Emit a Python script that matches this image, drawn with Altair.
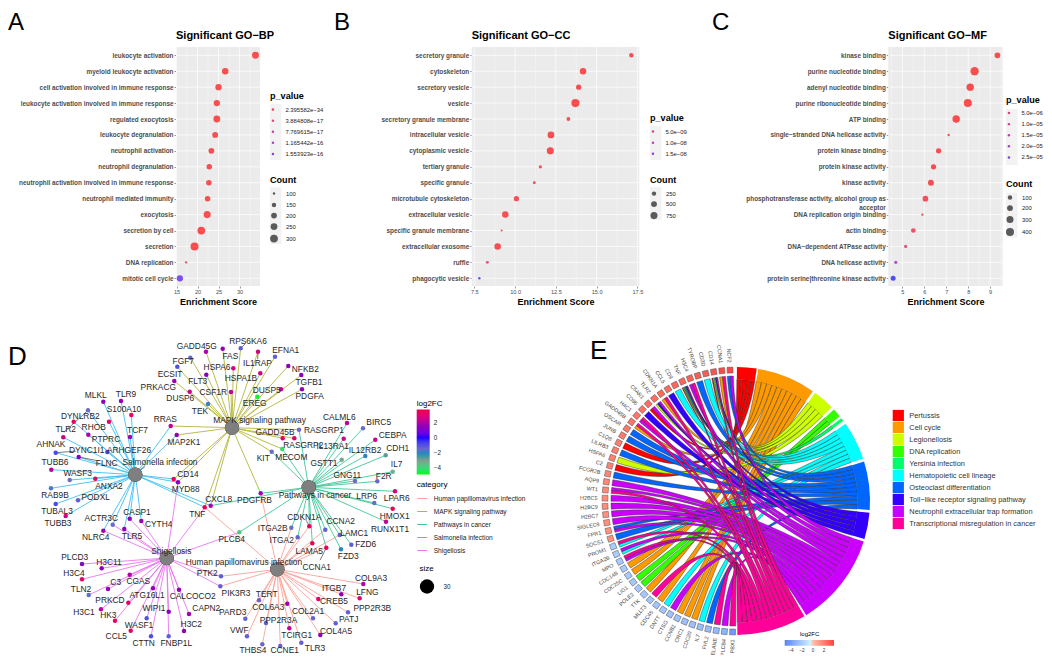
import math
import altair as alt
import pandas as pd

W, H = 1036, 647
FONT = "Liberation Sans"

# ---------- panels A-C ----------
terms_a = ["leukocyte activation", "myeloid leukocyte activation", "cell activation involved in immune response",
           "leukocyte activation involved in immune response", "regulated exocytosis", "leukocyte degranulation",
           "neutrophil activation", "neutrophil degranulation", "neutrophil activation involved in immune response",
           "neutrophil mediated immunity", "exocytosis", "secretion by cell", "secretion", "DNA replication",
           "mitotic cell cycle"]
score_a = [33.8, 26.6, 25.0, 24.6, 24.6, 24.2, 23.3, 22.8, 22.7, 22.4, 22.3, 20.9, 19.3, 17.3, 15.8]
count_a = [255, 235, 225, 225, 250, 200, 200, 190, 190, 190, 265, 300, 315, 100, 225]
pval_a = [2.4e-34, 1e-24, 1e-22, 1e-22, 1e-22, 1e-21, 1e-20, 1e-20, 1e-20, 1e-20, 1e-20, 1e-19, 1e-18, 1.5e-17, 1.6e-16]

terms_b = ["secretory granule", "cytoskeleton", "secretory vesicle", "vesicle", "secretory granule membrane",
           "intracellular vesicle", "cytoplasmic vesicle", "tertiary granule", "specific granule",
           "microtubule cytoskeleton", "extracellular vesicle", "specific granule membrane",
           "extracellular exosome", "ruffle", "phagocytic vesicle"]
score_b = [17.13, 14.17, 13.9, 13.7, 13.27, 12.2, 12.16, 11.55, 11.18, 10.08, 9.4, 9.18, 8.93, 8.3, 7.81]
count_b = [260, 620, 380, 990, 180, 680, 750, 120, 90, 380, 620, 25, 620, 90, 40]
pval_b = [1e-14, 1e-13, 1e-13, 1e-13, 1e-12, 1e-12, 1e-12, 1e-11, 1e-11, 1e-10, 1e-10, 1e-10, 1e-10, 4.0e-9, 1.7e-8]

terms_c = ["kinase binding", "purine nucleotide binding", "adenyl nucleotide binding", "purine ribonucleotide binding",
           "ATP binding", "single\u2212stranded DNA helicase activity", "protein kinase binding",
           "protein kinase activity", "kinase activity", "phosphotransferase activity, alcohol group as\nacceptor",
           "DNA replication origin binding", "actin binding", "DNA\u2212dependent ATPase activity",
           "DNA helicase activity", "protein serine|threonine kinase activity"]
score_c = [9.33, 8.29, 8.09, 7.98, 7.45, 7.11, 6.65, 6.42, 6.3, 6.05, 5.91, 5.5, 5.15, 4.7, 4.58]
count_c = [185, 430, 340, 400, 340, 5, 156, 156, 204, 185, 5, 116, 38, 38, 136]
pval_c = [1e-8, 1e-8, 1e-8, 1e-8, 1e-8, 1e-7, 1e-7, 1e-7, 1e-7, 1e-6, 1e-6, 2e-6, 7e-6, 2.0e-5, 2.7e-5]

legend_p_a = [2.395582e-34, 3.884808e-17, 7.769615e-17, 1.165442e-16, 1.553923e-16]
legend_p_b = [5.0e-9, 1.0e-8, 1.5e-8]
legend_p_c = [5.0e-6, 1.0e-5, 1.5e-5, 2.0e-5, 2.5e-5]

one = pd.DataFrame({"a": [1]})
PX = alt.Scale(domain=[8, 8 + W], range=[0, W], nice=False, zero=False)
PY = alt.Scale(domain=[8, 8 + H], range=[0, H], nice=False, zero=False)
layers = []
EXPR_FULL = "replace(format(datum.value,'.6e'),'e-','e\u2212')"
EXPR_SHORT = "replace(format(datum.value,'.1e'),'e-','e\u22120')"


def panel(terms, score, count, pval, title, left, right, xdom, major, minor, xfmt,
          pvals, pexpr, pdom, cvals, cdom, crange, lx, ly_p, key_p, ly_c, key_c):
    top, bot = 47, 286
    l, r, t, b = left - 8, right - 8, top - 8, bot - 8
    sx = alt.Scale(domain=xdom, range=[l, r], nice=False, zero=False)
    sy = alt.Scale(type="point", domain=terms, range=[55.3 - 8, 278.3 - 8], padding=0)
    df = pd.DataFrame({"term": terms, "score": score, "Count": count, "p": pval})
    layers.append(alt.Chart(one).mark_rect(color="#ebebeb").encode(
        x=alt.value(l), x2=alt.value(r), y=alt.value(t), y2=alt.value(b)))
    layers.append(alt.Chart(pd.DataFrame({"v": minor})).mark_rule(color="white", strokeWidth=0.35).encode(
        x=alt.X("v:Q", scale=sx, axis=None), y=alt.value(t), y2=alt.value(b)))
    layers.append(alt.Chart(pd.DataFrame({"v": major})).mark_rule(color="white", strokeWidth=0.7).encode(
        x=alt.X("v:Q", scale=sx, axis=None), y=alt.value(t), y2=alt.value(b)))
    layers.append(alt.Chart(df).mark_rule(color="white", strokeWidth=0.7).encode(
        y=alt.Y("term:N", scale=sy, axis=None), x=alt.value(l), x2=alt.value(r)))
    # legend key backgrounds
    for (k0, k1) in (key_p, key_c):
        layers.append(alt.Chart(one).mark_rect(color="#f2f2f2").encode(
            x=alt.value(lx - 8), x2=alt.value(lx - 8 + 11.5), y=alt.value(k0 - 8), y2=alt.value(k1 - 8)))
    layers.append(alt.Chart(df).mark_circle(opacity=0.68).encode(
        x=alt.X("score:Q", scale=sx, axis=alt.Axis(
            orient="bottom", offset=b - H, values=major, format=xfmt, grid=False, domain=False,
            tickSize=2, tickWidth=0.5, tickColor="#333333", labelFontSize=5.6, labelColor="#4d4d4d", labelPadding=1.5,
            title="Enrichment Score", titleFontSize=9, titleFontWeight="bold", titleColor="black",
            titlePadding=2.5, labelFlush=False)),
        y=alt.Y("term:N", sort=None, scale=sy, axis=alt.Axis(
            orient="left", offset=-l, title=None, grid=False, domain=False, tickSize=2, tickWidth=0.5,
            tickColor="#333333", labelFontSize=6.4, labelFontWeight="bold", labelColor="#4d4d4d", labelPadding=1,
            labelLimit=300, labelExpr="split(datum.label, '\\n')")),
        color=alt.Color("p:Q", scale=alt.Scale(domain=pdom, range=["red", "blue"], interpolate="lab", nice=False, zero=False),
                        legend=alt.Legend(type="symbol", title="p_value", values=pvals, labelExpr=pexpr, orient="none",
                                          legendX=lx - 8, legendY=ly_p - 8, symbolSize=6, symbolOpacity=0.75,
                                          labelFontSize=5.9, labelColor="#222222", titleFontSize=9.1, titleFontWeight="bold",
                                          titleColor="black", rowPadding=4.1, labelOffset=9.5, titlePadding=5.5,
                                          symbolType="circle", symbolStrokeWidth=0)),
        size=alt.Size("Count:Q", scale=alt.Scale(domain=cdom, range=crange, nice=False, zero=False),
                      legend=alt.Legend(title="Count", values=cvals, orient="none", legendX=lx - 8, legendY=ly_c - 8,
                                        symbolFillColor="#333333", symbolOpacity=0.8, symbolStrokeWidth=0,
                                        labelFontSize=5.9, labelColor="#222222", titleFontSize=9.1, titleFontWeight="bold",
                                        titleColor="black", rowPadding=4.5, labelOffset=8, titlePadding=6)),
    ))
    layers.append(alt.Chart(pd.DataFrame({"t": [title], "x": [left], "y": [36]})).mark_text(
        font=FONT, fontSize=11, fontWeight="bold", color="black", align="left", baseline="middle").encode(
        x=alt.X("x:Q", scale=PX, axis=None), y=alt.Y("y:Q", scale=PY, axis=None), text="t:N"))


panel(terms_a, score_a, count_a, pval_a, "Significant GO\u2212BP", 176, 260, [14.88, 34.88], [15, 20, 25, 30],
      [17.5, 22.5, 27.5, 32.5], "d", legend_p_a, EXPR_FULL, [0, 1.7e-16], [100, 150, 200, 250, 300], [100, 300], [6, 60],
      270, 92, (104, 160), 175.5, (187.3, 244))
panel(terms_b, score_b, count_b, pval_b, "Significant GO\u2212CC", 471.7, 639.3, [7.34, 17.62],
      [7.5, 10, 12.5, 15, 17.5], [8.75, 11.25, 13.75, 16.25], ".1f", legend_p_b, EXPR_SHORT, [0, 1.7e-8],
      [250, 500, 750], [0, 1000], [3, 66], 650, 114, (126, 160), 175.5, (187, 220))
panel(terms_c, score_c, count_c, pval_c, "Significant GO\u2212MF", 888.3, 1002.7, [4.36, 9.57],
      [5, 6, 7, 8, 9], [4.5, 5.5, 6.5, 7.5, 8.5, 9.5], "d", legend_p_c, EXPR_SHORT, [0, 2.7e-5],
      [100, 200, 300, 400], [0, 400], [5, 64], 1006, 95.5, (109, 165), 179.5, (192.7, 237.7))

# ---------- panel letters ----------
top_letters = ["A", "B", "C"]
top_letter_x = [8, 334, 712]
top_letter_y = [22.5, 22.5, 22.5]
low_letters = ["D", "E"]
low_letter_x = [8, 590]
low_letter_y = [357, 351]
for txt, xs, ys, fs in ((top_letters, top_letter_x, top_letter_y, 24), (low_letters, low_letter_x, low_letter_y, 26)):
    layers.append(alt.Chart(pd.DataFrame({"t": txt, "x": xs, "y": ys})).mark_text(
        font=FONT, fontSize=fs, color="black", align="left", baseline="middle").encode(
        x=alt.X("x:Q", scale=PX, axis=None), y=alt.Y("y:Q", scale=PY, axis=None), text="t:N"))

# ---------- panel D: network ----------
hubs = {"S": ("Salmonella infection", 135.3, 474.7, 160, 462.3),
        "M": ("MAPK signaling pathway", 232, 427.7, 259.5, 419.7),
        "P": ("Pathways in cancer", 308.7, 487.3, 315, 495.3),
        "H": ("Human papillomavirus infection", 277.3, 569.3, 244, 562.3),
        "G": ("Shigellosis", 166.7, 558, 171.3, 550.7)}
# gene, node x, node y, label x, label y, log2FC, pathways
nodes = [
    ("MLKL", 103.3, 401.7, 95.7, 395.3, 1.6, "S"), ("TLR9", 121, 401, 126, 394.3, 1.6, "S"),
    ("S100A10", 131.3, 415, 124, 408.7, 3.3, "S"), ("DYNLRB2", 73.7, 421.7, 80.3, 416.3, 3.3, "S"),
    ("RHOB", 88.3, 434.7, 93.7, 427, 2.0, "S"), ("TLR2", 63.3, 437.3, 65.7, 428.7, 2.4, "S"),
    ("PTPRC", 109, 421.7, 106, 438.7, 3.3, "S"), ("TCF7", 130, 437, 137.5, 430, 1.8, "S"),
    ("ARHGEF26", 107.3, 452, 129, 450.3, -0.8, "S"), ("AHNAK", 88, 410.3, 51, 444, -1.6, "S"),
    ("DYNC1I1", 55.7, 452.7, 86.7, 450.3, -0.8, "S"), ("FLNC", 78.7, 457, 106.7, 462.5, 1.2, "S"),
    ("TUBB6", 51.3, 469.7, 55, 462, 2.2, "S"), ("WASF3", 69.7, 480, 77.7, 473.3, -1.6, "S"),
    ("ANXA2", 95.3, 478.7, 109, 485.7, 3.3, "S"), ("RAB9B", 51, 488.3, 55, 495, -1.8, "S"),
    ("TUBAL3", 55.7, 504, 57, 511, -0.8, "S"), ("PODXL", 78, 500.3, 95.7, 497.3, -1.3, "S"),
    ("TUBB3", 65.7, 516, 58, 523, 2.6, "S"),
    ("GADD45G", 206, 351.7, 196.7, 345.7, 2.0, "M"), ("RPS6KA6", 240.7, 348.3, 248, 341, -1.3, "M"),
    ("FAS", 222.7, 348.7, 230.3, 355.7, 1.6, "M"), ("EFNA1", 275, 356.7, 285.7, 350.3, -1.3, "M"),
    ("FGF7", 190.3, 357.7, 183.3, 361, -1.5, "M"), ("ECSIT", 177.3, 366.7, 170, 373.7, -0.9, "M"),
    ("HSPA6", 233.3, 368.3, 217, 366.7, 2.7, "M"), ("IL1RAP", 258, 351.7, 257.5, 363.3, 2.7, "M"),
    ("NFKB2", 288.3, 366, 305.3, 368.7, 1.6, "M"), ("TGFB1", 301.3, 375, 309, 382, 1.6, "M"),
    ("HSPA1B", 260.3, 373.3, 241, 378.3, 2.6, "M"), ("FLT3", 206.3, 374.7, 197.7, 381, 1.6, "M"),
    ("PRKACG", 174.3, 381, 158.3, 387, 1.8, "M"), ("CSF1R", 231, 392, 213.3, 392.3, 2.3, "M"),
    ("DUSP6", 189.7, 391.7, 180.3, 398.3, 2.6, "M"), ("DUSP5", 281, 389.3, 266.7, 390, 2.5, "M"),
    ("PDGFA", 302, 389.3, 309.7, 396, 1.6, "M"), ("EREG", 257.3, 396.7, 254.7, 402.7, -4.8, "M"),
    ("TEK", 208, 404, 200, 410.7, -1.9, "M"), ("RRAS", 170.7, 426, 165.3, 419.3, 2.4, "SM"),
    ("MAP2K1", 176.7, 435, 184, 441.7, 1.6, "SM"), ("GADD45B", 282.7, 438.3, 275, 431.7, 3.2, "M"),
    ("RASGRP2", 294.3, 438.3, 303.3, 445, 3.0, "M"), ("RASGRP1", 299, 429.7, 324, 430, -1.6, "MP"),
    ("KIT", 271.7, 451.7, 263.3, 458.3, -1.6, "MP"), ("MECOM", 282.3, 449, 291.3, 456.7, -4.2, "MP"),
    ("PDGFRB", 260.7, 493.3, 254.5, 500, 1.8, "MPH"), ("CD14", 173.7, 479, 188, 474, 3.7, "SM"),
    ("MYD88", 178, 482.3, 185.7, 489, 1.4, "SMG"), ("CXCL8", 210.7, 505.7, 218.7, 499.3, 2.0, "SMP"),
    ("TNF", 204.7, 507.3, 197.3, 513.7, 3.5, "SMHG"),
    ("CALML6", 347, 423, 339.3, 417, 2.2, "P"), ("BIRC5", 363, 428.3, 378.7, 422.3, -1.6, "P"),
    ("CEBPA", 375.3, 439.7, 392.7, 435, 2.4, "P"), ("IL13RA1", 343.7, 438.7, 332.7, 445.7, 2.5, "P"),
    ("IL12RB2", 365.3, 456, 365, 450, -2.0, "P"), ("CDH1", 385.7, 455.3, 397.7, 448, -2.7, "P"),
    ("GSTT1", 341.7, 459.7, 324, 463, -3.2, "P"), ("IL7", 392.7, 471.7, 396.7, 464.3, -3.3, "P"),
    ("GNG11", 355, 481, 347.3, 474.7, -1.6, "P"), ("F2R", 377.3, 481.3, 383.7, 476, -1.5, "P"),
    ("LPAR6", 395, 491.3, 396.7, 498, 2.8, "P"), ("LRP6", 374.3, 503, 366.7, 496.3, -1.6, "P"),
    ("HMOX1", 392.7, 508.7, 394.7, 515.7, 3.5, "P"), ("RUNX1T1", 386, 521.7, 390, 529, 2.3, "P"),
    ("CDKN1A", 309.3, 526.3, 304.3, 517, 3.3, "PH"), ("CCNA2", 325.3, 529.7, 340.7, 521.3, -1.4, "PH"),
    ("ITGA2B", 291.3, 527.7, 272.7, 528.3, -1.6, "PH"), ("ITGA2", 297.7, 537.3, 281.7, 539.7, -1.4, "PH"),
    ("LAMC1", 339.7, 535, 354.3, 533, -1.4, "PH"), ("LAMA5", 312.3, 543.3, 309.3, 551.3, 3.4, "PH"),
    ("CCNA1", 326.3, 547.7, 316.7, 567, 3.7, "PH"), ("FZD6", 351.3, 544.7, 365.7, 544.3, -1.3, "P"),
    ("FZD3", 341, 549.3, 348.3, 556, -2.0, "P"), ("PLCB4", 239.3, 532.3, 231.7, 539.3, -3.8, "PG"),
    ("COL9A3", 363.3, 584, 371, 577.7, 2.0, "H"), ("ITGB7", 341.3, 594.3, 334, 588.3, 1.6, "H"),
    ("LFNG", 359.7, 598.3, 367.3, 591.7, 3.0, "H"), ("CREB5", 318.3, 599, 334, 601.3, 3.1, "H"),
    ("PPP2R3B", 348, 612.3, 372.3, 608, -1.3, "H"), ("PATJ", 335.7, 623.3, 348.7, 619.3, -1.3, "H"),
    ("COL4A5", 320.3, 635, 336, 631, 1.6, "H"), ("COL2A1", 313, 618.3, 308, 610.5, -1.5, "H"),
    ("TCIRG1", 289.3, 628.3, 296.7, 635, 2.2, "H"), ("TLR3", 301.3, 642.7, 315, 647.7, -1.3, "H"),
    ("CCNE1", 280.3, 646, 284.7, 650.3, -1.3, "H"), ("THBS4", 262.3, 644.3, 253, 650.3, -1.5, "H"),
    ("PPP2R3A", 266, 623, 278.5, 620, -1.3, "H"), ("COL6A3", 287.3, 603.7, 268.3, 607.3, 1.7, "H"),
    ("TERT", 259, 600.3, 266.7, 594, -1.4, "H"), ("VWF", 247, 636.3, 239.3, 630, -1.3, "H"),
    ("PARD3", 245.3, 618.7, 232.7, 612, -1.4, "H"), ("PTK2", 221, 576.3, 207.3, 573.3, -1.3, "HG"),
    ("PIK3R3", 220.3, 586.3, 236, 593.3, -1.3, "HG"),
    ("ACTR3C", 112.7, 524.7, 101.3, 518, -1.6, "SG"), ("CASP1", 129.7, 518.7, 137, 512.3, 1.6, "SG"),
    ("CYTH4", 141.3, 521, 158.7, 524, 1.7, "SG"), ("TLR5", 124.3, 529, 132, 535.7, 1.6, "SG"),
    ("NLRC4", 103.3, 530.7, 95.7, 537.3, 1.9, "SG"), ("PLCD3", 82, 564, 74.7, 557.3, 1.5, "G"),
    ("H3C11", 101.7, 568.3, 109, 562, 1.6, "G"), ("H3C4", 82, 579.3, 74, 573.3, 3.3, "G"),
    ("C3", 108, 589, 115.7, 582.3, 1.6, "G"), ("CGAS", 129.7, 574.7, 138.3, 581.3, 2.0, "G"),
    ("TLN2", 88.7, 595, 81, 588.7, -1.7, "G"), ("PRKCD", 128.3, 602.7, 110, 600, 3.3, "G"),
    ("ATG16L1", 153, 588.3, 147, 595, 1.6, "G"), ("CALCOCO2", 179, 589.7, 192.7, 596.3, 1.6, "G"),
    ("H3C1", 101, 609.3, 84, 611.7, 2.2, "G"), ("HK3", 115, 620.7, 108.3, 614.7, 3.3, "G"),
    ("WIPI1", 168.7, 611.7, 154, 608, 1.6, "G"), ("CAPN2", 189, 614, 206.3, 607.7, 1.8, "G"),
    ("WASF1", 146.7, 618.3, 139, 625, -1.0, "G"), ("H3C2", 184, 631, 191.3, 624.3, 1.6, "G"),
    ("CCL5", 130.7, 630.7, 116.3, 636, 3.4, "G"), ("CTTN", 151, 636.3, 143.7, 643, -0.9, "G"),
    ("FNBP1L", 168.7, 636.3, 176.3, 643, -1.3, "G"),
]
leader_genes = ["AHNAK", "DYNC1I1", "FLNC", "IL1RAP", "CCNA1", "RPS6KA6", "CDKN1A"]
cat_names = [hubs[k][0] for k in "HMPSG"]
cat_cols = ["#f8a399", "#b5b53a", "#3fc79a", "#3fc0f0", "#e878ee"]
fc_stops = [-4.89, -3, -1.6, 0, 1.6, 3.77]
fc_cols = ["#00ff00", "#7f9f8f", "#6c6cc8", "#2000ff", "#9000b8", "#f0004a"]

node_df = pd.DataFrame([{"name": n[0], "x": n[1], "y": n[2], "lx": n[3], "ly": n[4], "fc": n[5]} for n in nodes])
edge_df = pd.DataFrame([{"x": n[1], "y": n[2], "x2": hubs[k][1], "y2": hubs[k][2], "category": hubs[k][0]}
                        for n in nodes for k in n[6]])
hub_df = pd.DataFrame([{"name": v[0], "x": v[1], "y": v[2], "lx": v[3], "ly": v[4], "size": 30} for v in hubs.values()])
lead_rows = [{"x": n[1], "y": n[2], "x2": n[3] + (n[1] - n[3]) * 0.35, "y2": n[4] + (n[2] - n[4]) * 0.35}
             for n in nodes if n[0] in leader_genes]
lead_rows.append({"x": 135.3, "y": 474.7, "x2": 145, "y2": 466.5})
lead_df = pd.DataFrame(lead_rows)

layers.append(alt.Chart(edge_df).mark_rule(strokeWidth=0.9).encode(
    x=alt.X("x:Q", scale=PX, axis=None), y=alt.Y("y:Q", scale=PY, axis=None), x2="x2:Q", y2="y2:Q",
    color=alt.Color("category:N", sort=None, scale=alt.Scale(domain=cat_names, range=cat_cols),
                    legend=alt.Legend(title="category", orient="none", legendX=416.7 - 8, legendY=481 - 8,
                                      symbolType="stroke", symbolSize=100, symbolStrokeWidth=1, labelFontSize=6.6,
                                      labelColor="#222222", titleFontSize=8, titleFontWeight="normal", titleColor="black",
                                      rowPadding=3, labelLimit=200, labelOffset=6, titlePadding=4))))
layers.append(alt.Chart(lead_df).mark_rule(strokeWidth=0.6, color="#222222").encode(
    x=alt.X("x:Q", scale=PX, axis=None), y=alt.Y("y:Q", scale=PY, axis=None), x2="x2:Q", y2="y2:Q"))
# black circles drive the size legend; the grey hubs are drawn over them
layers.append(alt.Chart(hub_df).mark_circle(color="black", opacity=1).encode(
    x=alt.X("x:Q", scale=PX, axis=None), y=alt.Y("y:Q", scale=PY, axis=None),
    size=alt.Size("size:Q", scale=alt.Scale(domain=[0, 30], range=[0, 205], nice=False),
                  legend=alt.Legend(title="size", values=[30], orient="none", legendX=419.5 - 8, legendY=565 - 8,
                                    symbolStrokeWidth=0, labelFontSize=6.3,
                                    labelColor="#222222", titleFontSize=8, titleFontWeight="normal", titleColor="black",
                                    labelOffset=9, titlePadding=6))))
layers.append(alt.Chart(hub_df).mark_circle(color="#7f7f7f", opacity=1, size=205).encode(
    x=alt.X("x:Q", scale=PX, axis=None), y=alt.Y("y:Q", scale=PY, axis=None)))
layers.append(alt.Chart(node_df).mark_circle(size=20, opacity=1).encode(
    x=alt.X("x:Q", scale=PX, axis=None), y=alt.Y("y:Q", scale=PY, axis=None),
    color=alt.Color("fc:Q", scale=alt.Scale(domain=fc_stops, range=fc_cols, nice=False, zero=False),
                    legend=alt.Legend(title="log2FC", values=[-4, -2, 0, 2], orient="none", legendX=416.7 - 8,
                                      legendY=399.5 - 8, gradientLength=65, gradientThickness=13, labelFontSize=6.3,
                                      labelColor="#222222", titleFontSize=8, titleFontWeight="normal", titleColor="black",
                                      titlePadding=2, tickCount=4, labelOffset=4))))
for frame in (node_df, hub_df):
    layers.append(alt.Chart(frame).mark_text(font=FONT, fontSize=8.4, color="#262626", align="center", baseline="middle").encode(
        x=alt.X("lx:Q", scale=PX, axis=None), y=alt.Y("ly:Q", scale=PY, axis=None), text="name:N"))

# ---------- panel E: chord ----------
CX, CY = 736.0, 501.0
pathways = ["Pertussis", "Cell cycle", "Legionellosis", "DNA replication", "Yersinia infection",
            "Hematopoietic cell lineage", "Osteoclast differentiation", "Toll\u2212like receptor signaling pathway",
            "Neutrophil extracellular trap formation", "Transcriptional misregulation in cancer"]
path_cols = ["#FF0000", "#FF9900", "#CCFF00", "#33FF00", "#00FF66", "#00FFFF", "#0066FF", "#3300FF", "#CC00FF", "#FF0099"]
sector_start = [0.4, 9.6, 36.2, 46.9, 51.8, 54.8, 72.9, 95.0, 107.6, 149.3]
sector_end = [8.9, 35.0, 45.6, 50.7, 53.2, 71.5, 93.8, 106.5, 148.4, 179.4]
genes = ["NCF2", "CCNA1", "CD14", "CD3D", "TYROBP", "H3C4", "TNF", "CD9", "CCL5", "CDKN1A", "TLR2", "C5AR1", "CD86",
         "H4C1", "GADD45B", "OSCAR", "JUNB", "C1QB", "LILRB3", "HSPA6", "C2", "FCGR2B", "AQP9", "WT1", "H2BC5",
         "H2BC9", "H2BC7", "SIGLEC9", "FPR1", "SOCS1", "PROM1", "ITGA2B", "MPO", "CDC14B", "CDC25C", "LIG1", "POLE2",
         "TTK", "MLLT3", "CDC45", "DNTT", "CTSG", "CCNB2", "ORC1", "CDC20", "IL7", "FHL2", "ELANE", "PLCB4", "PBX1"]
gene_fc = [3.6, 3.5, 3.3, 3.1, 3.0, 2.9, 2.8, 2.7, 2.6, 2.6, 2.5, 2.5, 2.4, 2.3, 2.3, 2.2, 2.1, 2.0, 2.0, 1.9, 1.8, 1.8,
           1.7, 1.7, 1.6, 1.6, 1.5, 1.5, 1.4, 1.4, -2.0, -2.0, -2.1, -2.1, -2.1, -2.2, -2.2, -2.2, -2.3, -2.3, -2.3,
           -2.4, -2.4, -2.5, -2.5, -2.6, -2.7, -2.8, -3.0, -4.3]
# pathway indexes of every gene, top to bottom
gene_paths = [[6, 8], [1, 9], [0, 2, 5, 7, 9], [5], [6], [8, 9], [0, 2, 4, 5, 6, 7, 9], [5], [7], [1, 9], [2, 7, 8], [0, 8],
              [7], [8, 9], [1, 9], [6], [6], [0], [6], [2], [0], [6], [8], [9, 8], [8], [8], [8], [8], [8, 6], [6],
              [5, 9], [5, 8], [8, 9], [1], [1], [3], [3], [1], [9], [1], [5], [8], [1], [1], [1], [5], [6], [9], [8], [9]]
gene_start, gene_step, gene_half = 2.6, 3.59, 1.38
R_SECTOR_IN, R_SECTOR_OUT, R_GENE, R_SQUARE, R_LABEL = 121.5, 134.0, 125.0, 131.0, 138.5


def polar(theta, r):
    a = math.radians(theta)
    return [CX - 8 + r * math.sin(a), CY - 8 - r * math.cos(a)]


def curve(p0, p2):
    c = [CX - 8, CY - 8]
    out = []
    for i in range(1, 31):
        t = i / 30
        out.append([(1 - t) ** 2 * p0[0] + 2 * t * (1 - t) * c[0] + t ** 2 * p2[0],
                    (1 - t) ** 2 * p0[1] + 2 * t * (1 - t) * c[1] + t ** 2 * p2[1]])
    return out


def arc(t0, t1, r):
    return [polar(t0 + (t1 - t0) * i / 6, r) for i in range(7)]


members = {i: [] for i in range(len(pathways))}
for gi, plist in enumerate(gene_paths):
    for sub, p in enumerate(plist):
        members[p].append((gi, sub, len(plist)))

features = []
for p in range(len(pathways)):
    n = len(members[p])
    w = (sector_end[p] - sector_start[p]) / n
    for k, (gi, sub, total) in enumerate(members[p]):
        b_lo, b_hi = sector_start[p] + k * w, sector_start[p] + (k + 1) * w
        g = gene_start + gi * gene_step
        span = 2 * gene_half / total
        a_lo = -(g + gene_half) + sub * span
        a_hi = a_lo + span
        ring = arc(a_lo, a_hi, R_GENE)
        ring += curve(polar(a_hi, R_GENE), polar(b_lo, R_SECTOR_IN))
        ring += arc(b_lo, b_hi, R_SECTOR_IN)
        ring += curve(polar(b_hi, R_SECTOR_IN), polar(a_lo, R_GENE))
        ring.append(ring[0])
        features.append({"type": "Feature", "properties": {"col": path_cols[p]},
                         "geometry": {"type": "Polygon", "coordinates": [ring]}})

layers.append(alt.Chart(alt.Data(values=features)).mark_geoshape(stroke="#2b2b2b", strokeWidth=0.45).encode(
    color=alt.Color("properties.col:N", scale=None)).project(type="identity", scale=1, translate=[0, 0]))

sector_df = pd.DataFrame({"pathway": pathways, "a0": [math.radians(v) for v in sector_start],
                          "a1": [math.radians(v) for v in sector_end], "cx": CX, "cy": CY})
layers.append(alt.Chart(sector_df).mark_arc(innerRadius=R_SECTOR_IN, outerRadius=R_SECTOR_OUT).encode(
    x=alt.X("cx:Q", scale=PX, axis=None), y=alt.Y("cy:Q", scale=PY, axis=None),
    theta=alt.Theta("a0:Q", scale=None), theta2="a1:Q",
    color=alt.Color("pathway:N", sort=None, scale=alt.Scale(domain=pathways, range=path_cols),
                    legend=alt.Legend(title=None, orient="none", legendX=892.3 - 8, legendY=409.5 - 8, symbolType="square",
                                      symbolSize=126, symbolStrokeWidth=0, labelFontSize=7.4, labelColor="#333333",
                                      rowPadding=0, labelLimit=300, labelOffset=5))))

gene_rows = []
for i, (name, fc) in enumerate(zip(genes, gene_fc)):
    g = gene_start + i * gene_step
    sq = polar(-g, R_SQUARE)
    lb = polar(-g, R_LABEL)
    gene_rows.append({"gene": name, "fc": fc, "sx": sq[0] + 8, "sy": sq[1] + 8, "lx": lb[0] + 8, "ly": lb[1] + 8,
                      "rot": (90 - g) % 360})
gene_df = pd.DataFrame(gene_rows)
layers.append(alt.Chart(gene_df).mark_point(shape="square", filled=True, size=34, stroke="#555555", strokeWidth=0.5, opacity=1).encode(
    x=alt.X("sx:Q", scale=PX, axis=None), y=alt.Y("sy:Q", scale=PY, axis=None),
    angle=alt.Angle("rot:Q", scale=None),
    color=alt.Color("fc:Q", scale=alt.Scale(domain=[-5.15, 0, 3.8], range=["#5a85e8", "#ffffff", "#ff4040"], nice=False, zero=False),
                    legend=alt.Legend(title="log2FC", values=[-4, -2, 0, 2], orient="none", direction="horizontal",
                                      legendX=784.7 - 8, legendY=631 - 8, gradientLength=49.3, gradientThickness=5.7,
                                      labelFontSize=4.6, labelColor="#333333", titleFontSize=6, titleFontWeight="normal",
                                      titleColor="black", titleAnchor="middle", titlePadding=3))))
layers.append(alt.Chart(gene_df).mark_text(font=FONT, fontSize=5.4, color="#444444", align="right", baseline="middle").encode(
    x=alt.X("lx:Q", scale=PX, axis=None), y=alt.Y("ly:Q", scale=PY, axis=None),
    angle=alt.Angle("rot:Q", scale=None), text="gene:N"))

chart = alt.layer(*layers).resolve_scale(
    x="independent", y="independent", color="independent", size="independent"
).resolve_axis(x="independent", y="independent").resolve_legend(color="independent", size="independent").properties(
    width=W, height=H, padding=0, autosize=alt.AutoSizeParams(type="none"), background="white"
).configure(font=FONT).configure_view(stroke=None)

chart.save("out.html", embed_options={"renderer": "svg", "actions": False})
